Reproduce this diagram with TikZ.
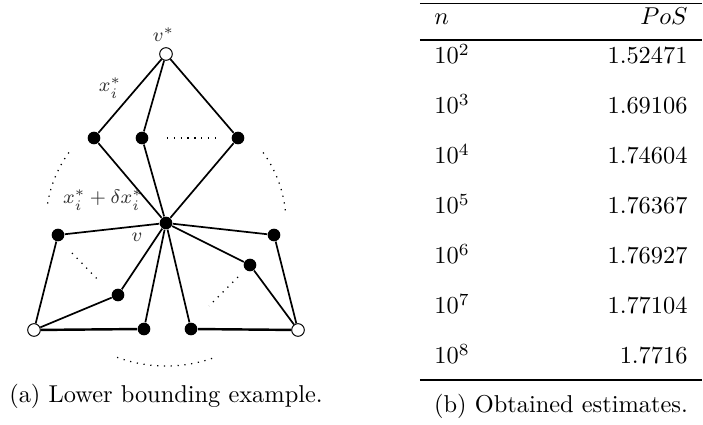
\documentclass[tikz,border=0pt]{standalone}
\usepackage{amsmath,amssymb}
\usepackage{tikz}
\usetikzlibrary{positioning}

\begin{document}
\begin{tikzpicture}[x=0.41pt,y=0.41pt,
  blk/.style={circle,fill=black,inner sep=0pt,minimum size=5.2pt},
  wht/.style={circle,draw,fill=white,inner sep=0pt,minimum size=5.2pt},
  lbl/.style={font=\footnotesize,inner sep=0pt,text=black!80},
  edg/.style={line width=0.7pt},
  dots/.style={line width=0.5pt,dash pattern=on 0.5pt off 2.3pt},
  cell/.style={inner sep=0pt}]
  \useasboundingbox (0,0) rectangle (703,425);
  % graph
  \node[wht] (vs) at (166,371) {};
  \node[blk] (a1) at (94,287) {};
  \node[blk] (a2) at (142,287) {};
  \node[blk] (a3) at (238,287) {};
  \node[blk] (v) at (166,202) {};
  \node[blk] (b1) at (58,190) {};
  \node[blk] (b2) at (274,190) {};
  \node[blk] (c1) at (118,130) {};
  \node[blk] (c2) at (250,160) {};
  \node[blk] (d1) at (144,96) {};
  \node[blk] (d2) at (191,96) {};
  \node[wht] (wl) at (34,95) {};
  \node[wht] (wr) at (298,95) {};
  \draw[edg] (vs) -- (a1);
  \draw[edg] (vs) -- (a2);
  \draw[edg] (vs) -- (a3);
  \draw[edg] (a1) -- (v);
  \draw[edg] (a2) -- (v);
  \draw[edg] (a3) -- (v);
  \draw[edg] (v) -- (b1);
  \draw[edg] (v) -- (b2);
  \draw[edg] (v) -- (c1);
  \draw[edg] (v) -- (c2);
  \draw[edg] (v) -- (d1);
  \draw[edg] (v) -- (d2);
  \draw[edg] (b1) -- (wl);
  \draw[edg] (c1) -- (wl);
  \draw[line width=1pt] (wl) -- (d1);
  \draw[edg] (b2) -- (wr);
  \draw[edg] (c2) -- (wr);
  \draw[line width=1pt] (d2) -- (wr);
  \node[lbl,above=2pt of vs,xshift=-1pt] (lvs) {$v^*$};
  \node[lbl] (lx) at (110,337) {$x_i^*$};
  \node[lbl] (lxd) at (103,225) {$x_i^*+\delta x_i^*$};
  \node[lbl] (lv) at (137,188) {$v$};
  % dotted hints
  \draw[dots] (167,287) -- (215,287);
  \draw[dots] (v) ++(144:120) arc[start angle=144,end angle=172,radius=120];
  \draw[dots] (v) ++(36:120) arc[start angle=36,end angle=6,radius=120];
  \draw[dots] (72,172) -- (100,143);
  \draw[dots] (238,148) -- (209,119);
  \draw[dots] (v) ++(250:143) arc[start angle=250,end angle=289,radius=143];
  \node[anchor=base] (capa) at (166,22) {(a) Lower bounding example.};
  % table
  \draw[line width=0.8pt] (420,421.5) -- (702,421.5);
  \draw[line width=0.5pt] (420,385) -- (702,385);
  \draw[line width=0.8pt] (420,45) -- (702,45);
  \node[cell,anchor=base west] (hn) at (434,400) {$n$};
  \node[cell,anchor=base east] (hp) at (688,400) {$PoS$};
  \node[cell,anchor=base west] (n2) at (434,361) {$10^2$};
  \node[cell,anchor=base east] (p2) at (688,361) {1.52471};
  \node[cell,anchor=base west] (n3) at (434,311) {$10^3$};
  \node[cell,anchor=base east] (p3) at (688,311) {1.69106};
  \node[cell,anchor=base west] (n4) at (434,261) {$10^4$};
  \node[cell,anchor=base east] (p4) at (688,261) {1.74604};
  \node[cell,anchor=base west] (n5) at (434,211) {$10^5$};
  \node[cell,anchor=base east] (p5) at (688,211) {1.76367};
  \node[cell,anchor=base west] (n6) at (434,161) {$10^6$};
  \node[cell,anchor=base east] (p6) at (688,161) {1.76927};
  \node[cell,anchor=base west] (n7) at (434,111) {$10^7$};
  \node[cell,anchor=base east] (p7) at (688,111) {1.77104};
  \node[cell,anchor=base west] (n8) at (434,61) {$10^8$};
  \node[cell,anchor=base east] (p8) at (688,61) {1.7716};
  \node[anchor=base] (capb) at (561,12) {(b) Obtained estimates.};
\end{tikzpicture}
\end{document}
